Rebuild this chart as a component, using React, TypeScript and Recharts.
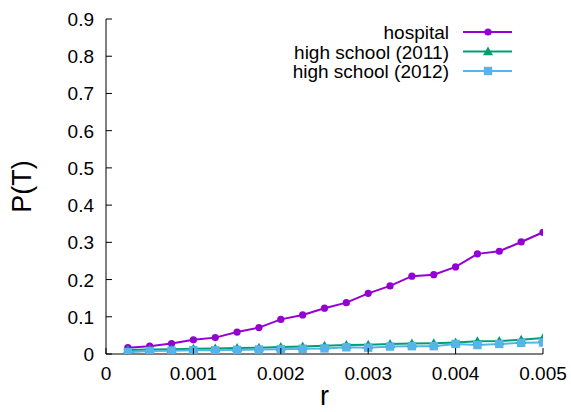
import React from "react";
import { LineChart, Line, XAxis, YAxis, Legend } from "recharts";

// Transmission probability P(T) against the per-contact rate r
const rValues = [
  0.00025, 0.0005, 0.00075, 0.001, 0.00125, 0.0015, 0.00175, 0.002, 0.00225, 0.0025,
  0.00275, 0.003, 0.00325, 0.0035, 0.00375, 0.004, 0.00425, 0.0045, 0.00475, 0.005,
];
const hospital = [
  0.017, 0.021, 0.028, 0.038, 0.044, 0.059, 0.071, 0.093, 0.105, 0.123,
  0.138, 0.163, 0.183, 0.209, 0.213, 0.234, 0.269, 0.276, 0.301, 0.327,
];
const highSchool2011 = [
  0.011, 0.012, 0.013, 0.014, 0.015, 0.016, 0.017, 0.019, 0.020, 0.022,
  0.024, 0.025, 0.027, 0.028, 0.029, 0.031, 0.034, 0.035, 0.038, 0.043,
];
const highSchool2012 = [
  0.005, 0.008, 0.009, 0.010, 0.010, 0.011, 0.012, 0.013, 0.014, 0.015,
  0.018, 0.017, 0.020, 0.021, 0.021, 0.027, 0.024, 0.027, 0.030, 0.031,
];

const xTicks = [0, 0.001, 0.002, 0.003, 0.004, 0.005];
const xTickLabels = ["0", "0.001", "0.002", "0.003", "0.004", "0.005"];
const yTicks = [0, 0.1, 0.2, 0.3, 0.4, 0.5, 0.6, 0.7, 0.8, 0.9];
const yTickLabels = ["0", "0.1", "0.2", "0.3", "0.4", "0.5", "0.6", "0.7", "0.8", "0.9"];

const seriesNames = ["hospital", "high school (2011)", "high school (2012)"];
const colors = ["#9400d3", "#009e73", "#56b4e9"];

const data = rValues.map((r, i) => ({
  r,
  hospital: hospital[i],
  hs2011: highSchool2011[i],
  hs2012: highSchool2012[i],
}));

const FONT = "'Liberation Sans', Arial, sans-serif";
const TICK_FONT = 19;
const TICK_LEN = 6;

const labelFor = (ticks: number[], labels: string[], v: number) => {
  const idx = ticks.findIndex((t) => Math.abs(t - v) < 1e-9);
  return idx >= 0 ? labels[idx] : String(v);
};

const BottomTick = (props: any) => {
  const { x, y, payload } = props;
  return (
    <g>
      <line x1={x} x2={x} y1={y} y2={y - TICK_LEN} stroke="#000" />
      <text x={x} y={y + 26} textAnchor="middle" fontSize={TICK_FONT} fontFamily={FONT} fill="#000">
        {labelFor(xTicks, xTickLabels, payload.value)}
      </text>
    </g>
  );
};

const TopTick = (props: any) => {
  const { x, y } = props;
  return <line x1={x} x2={x} y1={y} y2={y + TICK_LEN} stroke="#000" />;
};

const LeftTick = (props: any) => {
  const { x, y, payload } = props;
  return (
    <g>
      <line x1={x} x2={x + TICK_LEN} y1={y} y2={y} stroke="#000" />
      <text x={x - 12} y={y + 7} textAnchor="end" fontSize={TICK_FONT} fontFamily={FONT} fill="#000">
        {labelFor(yTicks, yTickLabels, payload.value)}
      </text>
    </g>
  );
};

const RightTick = (props: any) => {
  const { x, y } = props;
  return <line x1={x} x2={x - TICK_LEN} y1={y} y2={y} stroke="#000" />;
};

const CircleDot = (props: any) => {
  const { cx, cy, index } = props;
  if (cx == null || cy == null) return null;
  return <circle key={`c-${index}`} cx={cx} cy={cy} r={3.6} fill={colors[0]} />;
};

const TriangleDot = (props: any) => {
  const { cx, cy, index } = props;
  if (cx == null || cy == null) return null;
  const s = 5;
  return (
    <polygon
      key={`t-${index}`}
      points={`${cx},${cy - s} ${cx - s},${cy + s * 0.75} ${cx + s},${cy + s * 0.75}`}
      fill={colors[1]}
    />
  );
};

const SquareDot = (props: any) => {
  const { cx, cy, index } = props;
  if (cx == null || cy == null) return null;
  const s = 4.2;
  return <rect key={`s-${index}`} x={cx - s} y={cy - s} width={2 * s} height={2 * s} fill={colors[2]} />;
};

const markerFor = (i: number, cx: number, cy: number) => {
  if (i === 0) return <circle cx={cx} cy={cy} r={3.6} fill={colors[0]} />;
  if (i === 1)
    return <polygon points={`${cx},${cy - 5} ${cx - 5},${cy + 3.75} ${cx + 5},${cy + 3.75}`} fill={colors[1]} />;
  return <rect x={cx - 4.2} y={cy - 4.2} width={8.4} height={8.4} fill={colors[2]} />;
};

const KeyBox = () => {
  const rows = [12, 31.5, 51];
  return (
    <svg width={250} height={64} style={{ display: "block" }}>
      {seriesNames.map((name, i) => (
        <g key={name}>
          <text
            x={159}
            y={rows[i] + 7}
            textAnchor="end"
            fontSize={TICK_FONT}
            fontFamily={FONT}
            fill="#000"
          >
            {name}
          </text>
          <line x1={173} x2={222} y1={rows[i]} y2={rows[i]} stroke={colors[i]} strokeWidth={2} />
          {markerFor(i, 198, rows[i])}
        </g>
      ))}
    </svg>
  );
};

export default function App() {
  return (
    <div style={{ position: "absolute", left: 0, top: 0, background: "#fff" }}>
      <LineChart
        width={571}
        height={412}
        data={data}
        margin={{ top: 19, right: 28, bottom: 0, left: 0 }}
      >
        <XAxis
          dataKey="r"
          type="number"
          domain={[0, 0.005]}
          ticks={xTicks}
          interval={0}
          height={58}
          tickSize={0}
          tickMargin={0}
          tickLine={false}
          axisLine={{ stroke: "#000" }}
          tick={<BottomTick />}
          allowDataOverflow
          label={{
            value: "r",
            position: "insideBottom",
            offset: 7,
            style: { fontSize: 27, fontFamily: FONT, fill: "#000" },
          }}
        />
        <XAxis
          xAxisId="top"
          dataKey="r"
          type="number"
          orientation="top"
          domain={[0, 0.005]}
          ticks={xTicks}
          interval={0}
          height={0}
          tickSize={0}
          tickMargin={0}
          tickLine={false}
          axisLine={{ stroke: "#000" }}
          tick={<TopTick />}
          allowDataOverflow
        />
        <YAxis
          type="number"
          domain={[0, 0.9]}
          ticks={yTicks}
          interval={0}
          width={106}
          tickSize={0}
          tickMargin={0}
          tickLine={false}
          axisLine={{ stroke: "#000" }}
          tick={<LeftTick />}
          allowDataOverflow
          label={{
            value: "P(T)",
            angle: -90,
            position: "insideLeft",
            offset: 21,
            style: { fontSize: 27, fontFamily: FONT, fill: "#000", textAnchor: "middle" },
          }}
        />
        <YAxis
          yAxisId="right"
          type="number"
          orientation="right"
          domain={[0, 0.9]}
          ticks={yTicks}
          interval={0}
          width={0}
          tickSize={0}
          tickMargin={0}
          tickLine={false}
          axisLine={{ stroke: "#000" }}
          tick={<RightTick />}
          allowDataOverflow
        />
        <Legend
          layout="vertical"
          align="center"
          verticalAlign="middle"
          content={() => <KeyBox />}
          wrapperStyle={{ left: 290, top: 20, width: 250, height: 64 }}
        />
        <Line
          dataKey="hospital"
          name={seriesNames[0]}
          stroke={colors[0]}
          strokeWidth={2}
          dot={<CircleDot />}
          isAnimationActive={false}
        />
        <Line
          dataKey="hs2011"
          name={seriesNames[1]}
          stroke={colors[1]}
          strokeWidth={2}
          dot={<TriangleDot />}
          isAnimationActive={false}
        />
        <Line
          dataKey="hs2012"
          name={seriesNames[2]}
          stroke={colors[2]}
          strokeWidth={2}
          dot={<SquareDot />}
          isAnimationActive={false}
        />
      </LineChart>
    </div>
  );
}
